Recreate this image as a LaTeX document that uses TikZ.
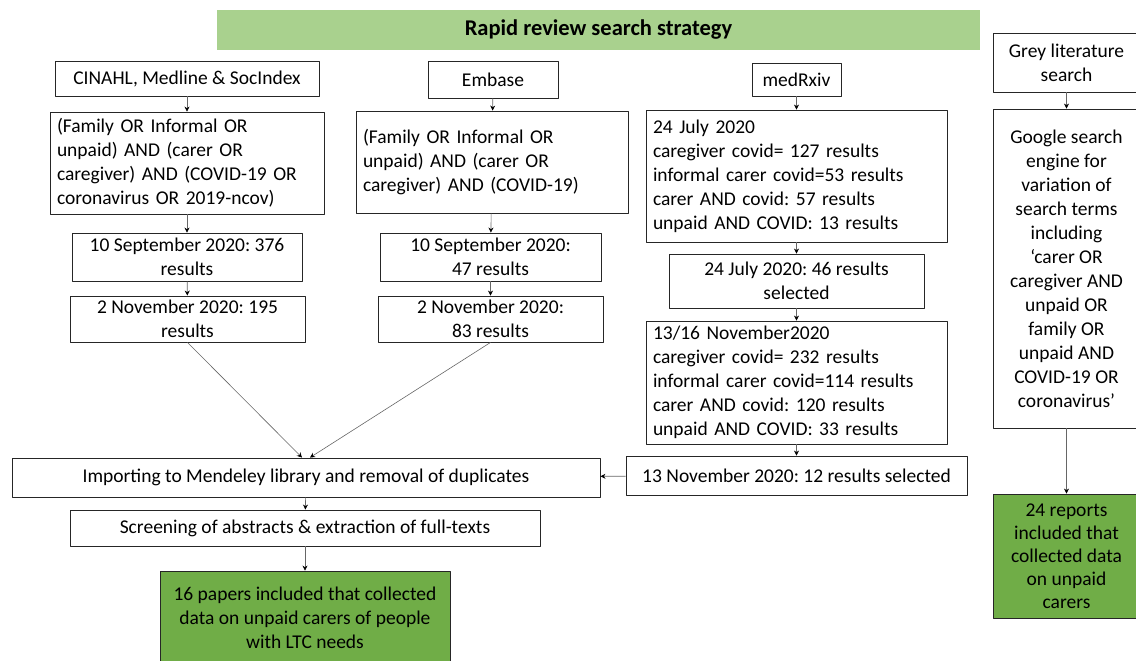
\documentclass[tikz,border=0pt]{standalone}
\usepackage{fontspec}
\setmainfont{Carlito}
\usetikzlibrary{arrows.meta}
\definecolor{titlegreen}{HTML}{A9D18E}
\definecolor{resgreen}{HTML}{70AD47}
\tikzset{
	box/.style={draw=black!85, line width=0.9pt, fill=white, inner xsep=7pt, inner ysep=2pt, font=\fontsize{19.5}{24}\selectfont},
	qbox/.style={box, align=left},
	cbox/.style={box, align=center},
	resbox/.style={box, fill=resgreen, align=center},
	link/.style={draw=black!60, line width=0.6pt, -{Stealth[length=5pt,width=5pt,black]}}
}
\frenchspacing
\begin{document}
\begin{tikzpicture}[x=1pt, y=-1pt, line join=round]
	\useasboundingbox (0,0) rectangle (1136,661);
	% tieu de
	\node[fill=titlegreen, minimum width=763pt, minimum height=40pt, font=\fontsize{22.5}{24}\selectfont\bfseries] (title) at (598.5,30) {Rapid review search strategy};
	% cot 1: CINAHL
	\node[cbox, minimum width=264pt, minimum height=35pt] (cin) at (187,78.5) {CINAHL, Medline \& SocIndex};
	\node[qbox, text width=260pt, minimum height=102pt] (qa) at (187,163) {(Family OR Informal OR\\unpaid) AND (carer OR\\caregiver) AND (COVID-19 OR\\coronavirus OR 2019-ncov)};
	\node[cbox, minimum width=230pt, minimum height=48pt] (sepa) at (187,257) {10 September 2020: 376\\results};
	\node[cbox, minimum width=235pt, minimum height=46pt] (nova) at (187.5,319) {2 November 2020: 195\\results};
	% cot 2: Embase
	\node[cbox, minimum width=130pt, minimum height=37pt] (emb) at (493,79.5) {Embase};
	\node[qbox, text width=258pt, minimum height=102pt] (qb) at (492,162) {(Family OR Informal OR\\unpaid) AND (carer OR\\caregiver) AND (COVID-19)};
	\node[cbox, minimum width=221pt, minimum height=48pt] (sepb) at (490.5,257) {10 September 2020:\\47 results};
	\node[cbox, minimum width=225pt, minimum height=46pt] (novb) at (490.5,319) {2 November 2020:\\83 results};
	% cot 3: medRxiv
	\node[cbox, minimum width=89pt, minimum height=33pt] (med) at (796.5,79.5) {medRxiv};
	\node[qbox, text width=287pt, minimum height=132pt] (jul) at (796.5,176) {24 July 2020\\caregiver covid= 127 results\\informal carer covid=53 results\\carer AND covid: 57 results\\unpaid AND COVID: 13 results};
	\node[cbox, minimum width=255pt, minimum height=54pt] (julsel) at (796.5,281) {24 July 2020: 46 results\\selected};
	\node[qbox, text width=287pt, minimum height=123pt] (nov) at (796.5,382.5) {13/16 November2020\\caregiver covid= 232 results\\informal carer covid=114 results\\carer AND covid: 120 results\\unpaid AND COVID: 33 results};
	\node[cbox, minimum width=341pt, minimum height=39pt] (novsel) at (796.5,475.5) {13 November 2020: 12 results selected};
	% cot 4: grey literature
	\node[cbox, minimum width=147pt, minimum height=59pt] (grey) at (1066.5,62.5) {Grey literature\\search};
	\node[cbox, minimum width=147pt, minimum height=319pt] (goog) at (1066.5,268.5) {Google search\\engine for\\variation of\\search terms\\including\\‘carer OR\\caregiver AND\\unpaid OR\\family OR\\unpaid AND\\COVID-19 OR\\coronavirus’};
	\node[resbox, minimum width=147pt, minimum height=124pt, font=\fontsize{19.5}{23}\selectfont] (rep) at (1066.5,556) {24 reports\\included that\\collected data\\on unpaid\\carers};
	% ket qua chung
	\node[cbox, minimum width=588pt, minimum height=39pt] (imp) at (306,477.5) {Importing to Mendeley library and removal of duplicates};
	\node[cbox, minimum width=470pt, minimum height=36pt] (scr) at (305,528) {Screening of abstracts \& extraction of full-texts};
	\node[resbox, minimum width=290pt, minimum height=94pt] (pap) at (305,618) {16 papers included that collected\\data on unpaid carers of people\\with LTC needs};
	% mui ten
	\draw[link] (cin) -- (qa);
	\draw[link] (qa) -- (sepa);
	\draw[link] (sepa) -- (nova);
	\draw[link] (emb) -- (qb);
	\draw[link] (qb) -- (sepb);
	\draw[link] (sepb) -- (novb);
	\draw[link] (med) -- (jul);
	\draw[link] (jul) -- (julsel);
	\draw[link] (julsel) -- (nov);
	\draw[link] (nov) -- (novsel);
	\draw[link] (novsel) -- (imp);
	\draw[link] (nova.south) -- ([xshift=-4pt]imp.north);
	\draw[link] (novb.south) -- ([xshift=4pt]imp.north);
	\draw[link] (imp) -- (scr);
	\draw[link] (scr) -- (pap);
	\draw[link] (grey) -- (goog);
	\draw[link] (goog) -- (rep);
\end{tikzpicture}
\end{document}
